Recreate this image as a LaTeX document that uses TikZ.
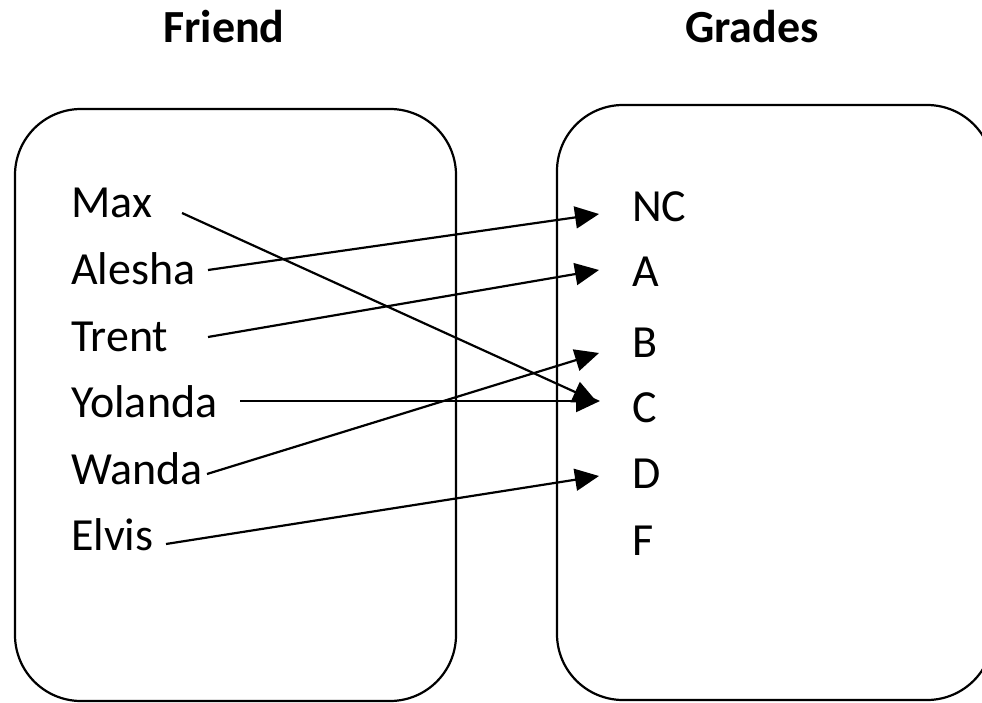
\documentclass[tikz,border=0pt]{standalone}
\usepackage{fontspec}
\setmainfont{Carlito}
\usetikzlibrary{arrows.meta}
\begin{document}
\begin{tikzpicture}[x=1pt,y=-1pt,
  setbox/.style={draw=black,line width=2.2pt,rounded corners=66pt},
  lbl/.style={anchor=base west,inner sep=0pt,font=\fontsize{46}{50}\selectfont},
  ttl/.style={anchor=base,inner sep=0pt,font=\fontsize{46}{50}\selectfont\bfseries},
  conn/.style={line width=2.2pt,-{Triangle[length=24pt,width=22pt]}}]
\useasboundingbox (0,0) rectangle (982,703);
% boxes
\draw[setbox] (15,109) rectangle (456,701);
\draw[setbox] (557,105) rectangle (993,700);
% titles
\node[ttl] (tfriend) at (224,43) {Friend};
\node[ttl] (tgrades) at (752,43) {Grades};
% friends
\node[lbl] (max) at (71,218) {Max};
\node[lbl] (alesha) at (71,284) {Alesha};
\node[lbl] (trent) at (71,351) {Trent};
\node[lbl] (yolanda) at (71,417) {Yolanda};
\node[lbl] (wanda) at (71,484) {Wanda};
\node[lbl] (elvis) at (71,550) {Elvis};
% grades
\node[lbl] (nc) at (632,222) {NC};
\node[lbl] (ga) at (632,287) {A};
\node[lbl] (gb) at (632,357) {B};
\node[lbl] (gc) at (632,422) {C};
\node[lbl] (gd) at (632,488) {D};
\node[lbl] (gf) at (632,555) {F};
% connector ends
\coordinate (sMax) at (182,213);
\coordinate (sAlesha) at (208,270);
\coordinate (sTrent) at (208,337);
\coordinate (sYolanda) at (240,401);
\coordinate (sWanda) at (207,474);
\coordinate (sElvis) at (166,544);
\coordinate (eNC) at (599,214);
\coordinate (eA) at (599,270);
\coordinate (eB) at (599,353);
\coordinate (eC) at (600,401);
\coordinate (eC2) at (597,402);
\coordinate (eD) at (599,476);
% connectors
\draw[conn] (sMax) -- (eC2);
\draw[conn] (sAlesha) -- (eNC);
\draw[conn] (sTrent) -- (eA);
\draw[conn] (sYolanda) -- (eC);
\draw[conn] (sWanda) -- (eB);
\draw[conn] (sElvis) -- (eD);
\end{tikzpicture}
\end{document}
